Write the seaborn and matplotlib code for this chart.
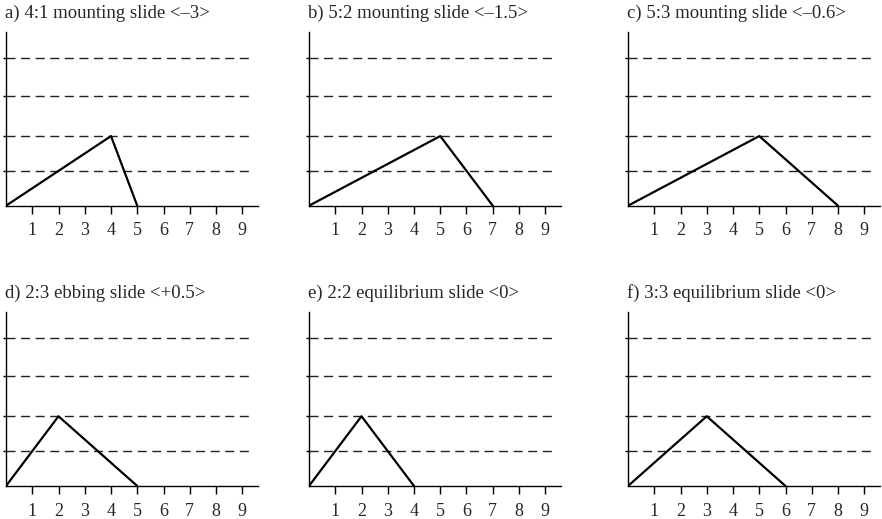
import numpy as np
import matplotlib
matplotlib.use("Agg")
import matplotlib.pyplot as plt
import seaborn as sns

# panel titles
titles = [
    "a) 4:1 mounting slide <\u20133>",
    "b) 5:2 mounting slide <\u20131.5>",
    "c) 5:3 mounting slide <\u20130.6>",
    "d) 2:3 ebbing slide <+0.5>",
    "e) 2:2 equilibrium slide <0>",
    "f) 3:3 equilibrium slide <0>",
]

# triangle vertices (start, peak, end) for each panel
tri_x = [
    [0, 4, 5],
    [0, 5, 7],
    [0, 5, 8],
    [0, 2, 5],
    [0, 2, 4],
    [0, 3, 6],
]
tri_y = [0, 2, 0]

# dashed reference levels
levels = [1.0, 2.0, 3.15, 4.25]
xticks = [1, 2, 3, 4, 5, 6, 7, 8, 9]

sns.set_style("white")
plt.rcParams["font.family"] = ["Liberation Serif", "DejaVu Serif"]

fig = plt.figure(figsize=(8.82, 5.19), dpi=100)

lefts = [6, 309, 628]
width = 252
rows = [(205.7, 32), (486, 312)]

for i in range(6):
    r, c = divmod(i, 3)
    base, top = rows[r]
    ax = fig.add_axes([
        lefts[c] / 882, (519 - base) / 519,
        width / 882, (base - top) / 519,
    ])

    ax.hlines(levels, 0, 9.4, colors="#222222", linestyles=(0, (6.5, 4)),
              linewidth=1.0)
    sns.lineplot(x=tri_x[i], y=tri_y, ax=ax, color="black", linewidth=1.6,
                 sort=False, estimator=None)

    ax.set_xlim(0, 9.6)
    ax.set_ylim(0, 4.99)
    ax.set_xticks(xticks)
    ax.set_xticklabels([str(t) for t in xticks], fontsize=13)
    ax.set_yticks(levels)
    ax.set_yticklabels([])
    ax.tick_params(axis="x", direction="out", length=6, width=1.0, pad=6,
                   bottom=True, color="black")
    ax.tick_params(axis="y", direction="out", length=2, width=1.0, left=True,
                   color="black")

    sns.despine(ax=ax)
    for s in ["left", "bottom"]:
        ax.spines[s].set_color("black")
        ax.spines[s].set_linewidth(1.0)

    ax.set_xlabel("")
    ax.set_ylabel("")
    ax.text(-0.005, 1.08, titles[i], transform=ax.transAxes, fontsize=13.5,
            ha="left", va="baseline")

fig.savefig("out.png", dpi=100)
